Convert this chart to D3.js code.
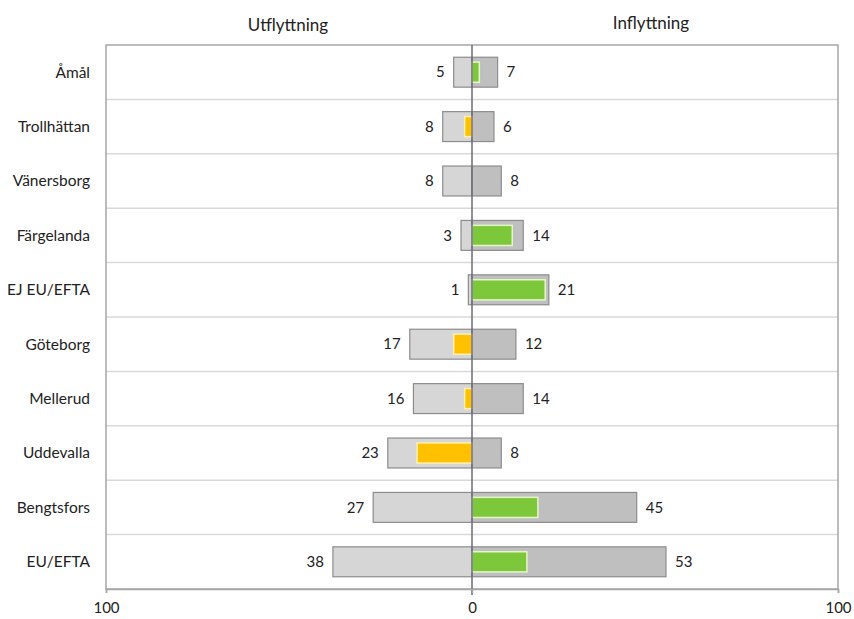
<!DOCTYPE html>
<html>
<head>
<meta charset="utf-8">
<script src="https://cdn.jsdelivr.net/npm/d3@7"></script>
<style>
  html, body { margin: 0; padding: 0; background: #fff; }
  svg text { font-family: Lato, "Open Sans", sans-serif; fill: #222; }
</style>
</head>
<body>
<svg id="chart" width="854" height="619"></svg>
<script>
// Flyttningar per kommun / region
const categories = ["Åmål", "Trollhättan", "Vänersborg", "Färgelanda", "EJ EU/EFTA",
                    "Göteborg", "Mellerud", "Uddevalla", "Bengtsfors", "EU/EFTA"];
const utflyttning = [5, 8, 8, 3, 1, 17, 16, 23, 27, 38];
const inflyttning = [7, 6, 8, 14, 21, 12, 14, 8, 45, 53];
const axisTicks = [-100, 0, 100];
const axisTickLabels = ["100", "0", "100"];

const svg = d3.select("#chart");
const plotLeft = 106, plotRight = 838, plotTop = 45, plotBottom = 589;

const x = d3.scaleLinear().domain([-100, 100]).range([plotLeft, plotRight]);
const y = d3.scaleBand().domain(categories).range([plotTop, plotBottom]).paddingInner(0).paddingOuter(0);
const bw = y.bandwidth();

// horizontal separators
svg.append("g").selectAll("line")
  .data(categories.slice(1))
  .join("line")
  .attr("x1", plotLeft).attr("x2", plotRight)
  .attr("y1", d => y(d)).attr("y2", d => y(d))
  .attr("stroke", "#d9d9d9").attr("stroke-width", 1.5);

// plot frame
svg.append("rect")
  .attr("x", plotLeft).attr("y", plotTop)
  .attr("width", plotRight - plotLeft).attr("height", plotBottom - plotTop)
  .attr("fill", "none").attr("stroke", "#a6a6a6").attr("stroke-width", 1.5);

const rows = categories.map((c, i) => ({ c, out: utflyttning[i], inn: inflyttning[i], net: inflyttning[i] - utflyttning[i] }));

const bigH = bw * 0.55;
const netH = bw * 0.37;

// outflow bars (left)
svg.append("g").selectAll("rect")
  .data(rows).join("rect")
  .attr("x", d => x(-d.out)).attr("width", d => x(0) - x(-d.out))
  .attr("y", d => y(d.c) + (bw - bigH) / 2).attr("height", bigH)
  .attr("fill", "#d6d6d6").attr("stroke", "#8c8c8c").attr("stroke-width", 1.2);

// inflow bars (right)
svg.append("g").selectAll("rect")
  .data(rows).join("rect")
  .attr("x", x(0)).attr("width", d => x(d.inn) - x(0))
  .attr("y", d => y(d.c) + (bw - bigH) / 2).attr("height", bigH)
  .attr("fill", "#bfbfbf").attr("stroke", "#8c8c8c").attr("stroke-width", 1.2);

// net bars
svg.append("g").selectAll("rect")
  .data(rows.filter(d => d.net !== 0)).join("rect")
  .attr("x", d => x(Math.min(0, d.net))).attr("width", d => Math.abs(x(d.net) - x(0)))
  .attr("y", d => y(d.c) + (bw - netH) / 2).attr("height", netH)
  .attr("fill", d => d.net > 0 ? "#7dc83a" : "#ffc000")
  .attr("stroke", d => d.net > 0 ? "#e6f5c8" : "#fff0b0").attr("stroke-width", 1.5);

// zero line
svg.append("line")
  .attr("x1", x(0)).attr("x2", x(0)).attr("y1", plotTop).attr("y2", plotBottom + 6)
  .attr("stroke", "#6b6b7a").attr("stroke-width", 1.5);

// bottom axis
const axis = svg.append("g").attr("transform", `translate(0,${plotBottom})`)
  .call(d3.axisBottom(x).tickValues(axisTicks).tickSize(4).tickPadding(9)
        .tickFormat((d, i) => axisTickLabels[i]));
axis.select(".domain").attr("stroke", "#a6a6a6").attr("stroke-width", 1.5);
axis.selectAll(".tick line").attr("stroke", "#a6a6a6").attr("stroke-width", 1.5);
axis.selectAll(".tick text").attr("font-size", 15).attr("fill", "#222")
  .attr("font-family", "Lato, \"Open Sans\", sans-serif");

// value labels
svg.append("g").selectAll("text")
  .data(rows).join("text")
  .attr("x", d => x(-d.out) - 9).attr("y", d => y(d.c) + bw / 2)
  .attr("dy", "0.35em").attr("text-anchor", "end").attr("font-size", 15)
  .text(d => d.out);
svg.append("g").selectAll("text")
  .data(rows).join("text")
  .attr("x", d => x(d.inn) + 9).attr("y", d => y(d.c) + bw / 2)
  .attr("dy", "0.35em").attr("text-anchor", "start").attr("font-size", 15)
  .text(d => d.inn);

// category labels
svg.append("g").selectAll("text")
  .data(categories).join("text")
  .attr("x", 90).attr("y", d => y(d) + bw / 2)
  .attr("dy", "0.35em").attr("text-anchor", "end").attr("font-size", 15.5)
  .text(d => d);

// column headings
svg.append("text").attr("x", 288).attr("y", 31).attr("text-anchor", "middle")
  .attr("font-size", 17).text("Utflyttning");
svg.append("text").attr("x", 651).attr("y", 29).attr("text-anchor", "middle")
  .attr("font-size", 17).text("Inflyttning");
</script>
</body>
</html>
